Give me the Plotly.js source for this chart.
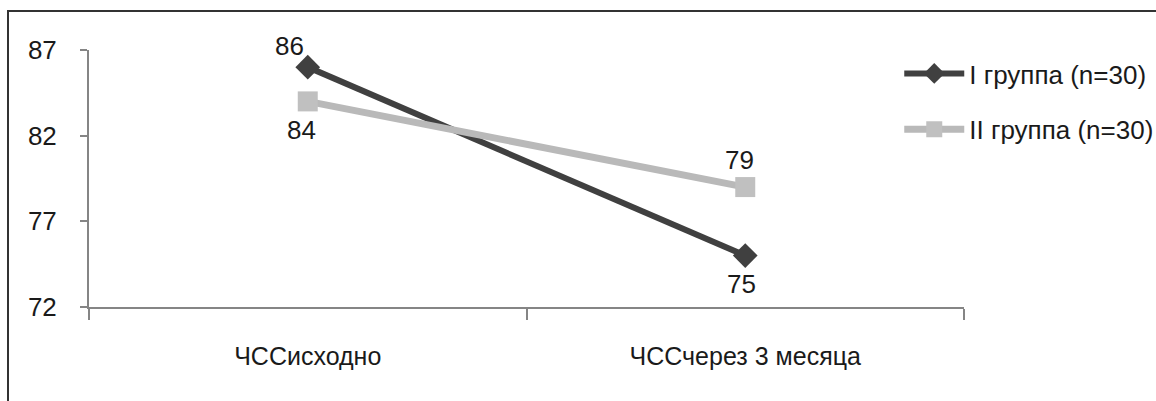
<!DOCTYPE html>
<html>
<head>
<meta charset="utf-8">
<script src="https://cdn.plot.ly/plotly-3.0.1.min.js"></script>
<style>
  html, body { margin: 0; padding: 0; background: #fff; }
  #frame { position: absolute; left: 7px; top: 10px; width: 1149px; height: 391px;
           border-left: 2px solid #333; border-top: 2px solid #333; }
  #chart { position: absolute; left: 0; top: 0; width: 1156px; height: 401px; }
</style>
</head>
<body>
<div id="frame"></div>
<div id="chart"></div>
<script>
// Heart rate at baseline and after 3 months, two groups
const categories = ["ЧССисходно", "ЧССчерез 3 месяца"];
const group1Name = "I группа (n=30)";
const group2Name = "II группа (n=30)";
const group1Values = [86, 75];
const group2Values = [84, 79];
const yTicks = [72, 77, 82, 87];

const fontFamily = "'Liberation Sans', Arial, sans-serif";

// pixel offsets of the value labels from their points: [xshift, yshift]
const group1LabelShift = [[-18, 21], [-4, -28]];
const group2LabelShift = [[-6, -29], [-6, 27]];

const traces = [
  {
    x: categories, y: group1Values, name: group1Name, legendgroup: "g1",
    type: "scatter", mode: "lines+markers",
    line: { color: "#404040", width: 6 },
    marker: { symbol: "diamond", size: 19, color: "#404040" },
    cliponaxis: false
  },
  {
    x: categories, y: group2Values, name: group2Name, legendgroup: "g2",
    type: "scatter", mode: "lines+markers",
    line: { color: "#b9b9b9", width: 7 },
    marker: { symbol: "square", size: 20, color: "#c0c0c0" },
    cliponaxis: false
  }
];

function valueLabels(values, shifts) {
  return values.map((v, i) => ({
    x: categories[i], y: v, xref: "x", yref: "y",
    text: String(v), showarrow: false,
    xshift: shifts[i][0], yshift: shifts[i][1],
    font: { family: fontFamily, size: 26, color: "#1a1a1a" }
  }));
}

const layout = {
  width: 1156, height: 401,
  margin: { l: 89, r: 192, t: 50, b: 94, autoexpand: false },
  paper_bgcolor: "rgba(0,0,0,0)",
  plot_bgcolor: "rgba(0,0,0,0)",
  font: { family: fontFamily, color: "#1a1a1a" },
  showlegend: true,
  legend: {
    x: 0.926, xanchor: "left", y: 1.0, yanchor: "top",
    font: { family: fontFamily, size: 26, color: "#1a1a1a" },
    itemwidth: 60, tracegroupgap: 19, traceorder: "grouped",
    bgcolor: "rgba(0,0,0,0)"
  },
  annotations: valueLabels(group1Values, group1LabelShift)
    .concat(valueLabels(group2Values, group2LabelShift)),
  xaxis: {
    type: "category", range: [-0.5, 1.5], tickson: "boundaries",
    showgrid: false, zeroline: false,
    showline: true, linecolor: "#858585", linewidth: 2,
    ticks: "outside", ticklen: 11, tickwidth: 2, tickcolor: "#858585",
    tickfont: { family: fontFamily, size: 25, color: "#1a1a1a" },
    ticklabelstandoff: 26
  },
  yaxis: {
    range: [72, 87], tickvals: yTicks, ticktext: yTicks.map(String),
    showgrid: false, zeroline: false,
    showline: true, linecolor: "#858585", linewidth: 2,
    ticks: "outside", ticklen: 7, tickwidth: 2, tickcolor: "#858585",
    tickfont: { family: fontFamily, size: 26, color: "#1a1a1a" },
    ticklabelstandoff: 18
  }
};

Plotly.newPlot("chart", traces, layout, { displayModeBar: false, staticPlot: true });
</script>
</body>
</html>
